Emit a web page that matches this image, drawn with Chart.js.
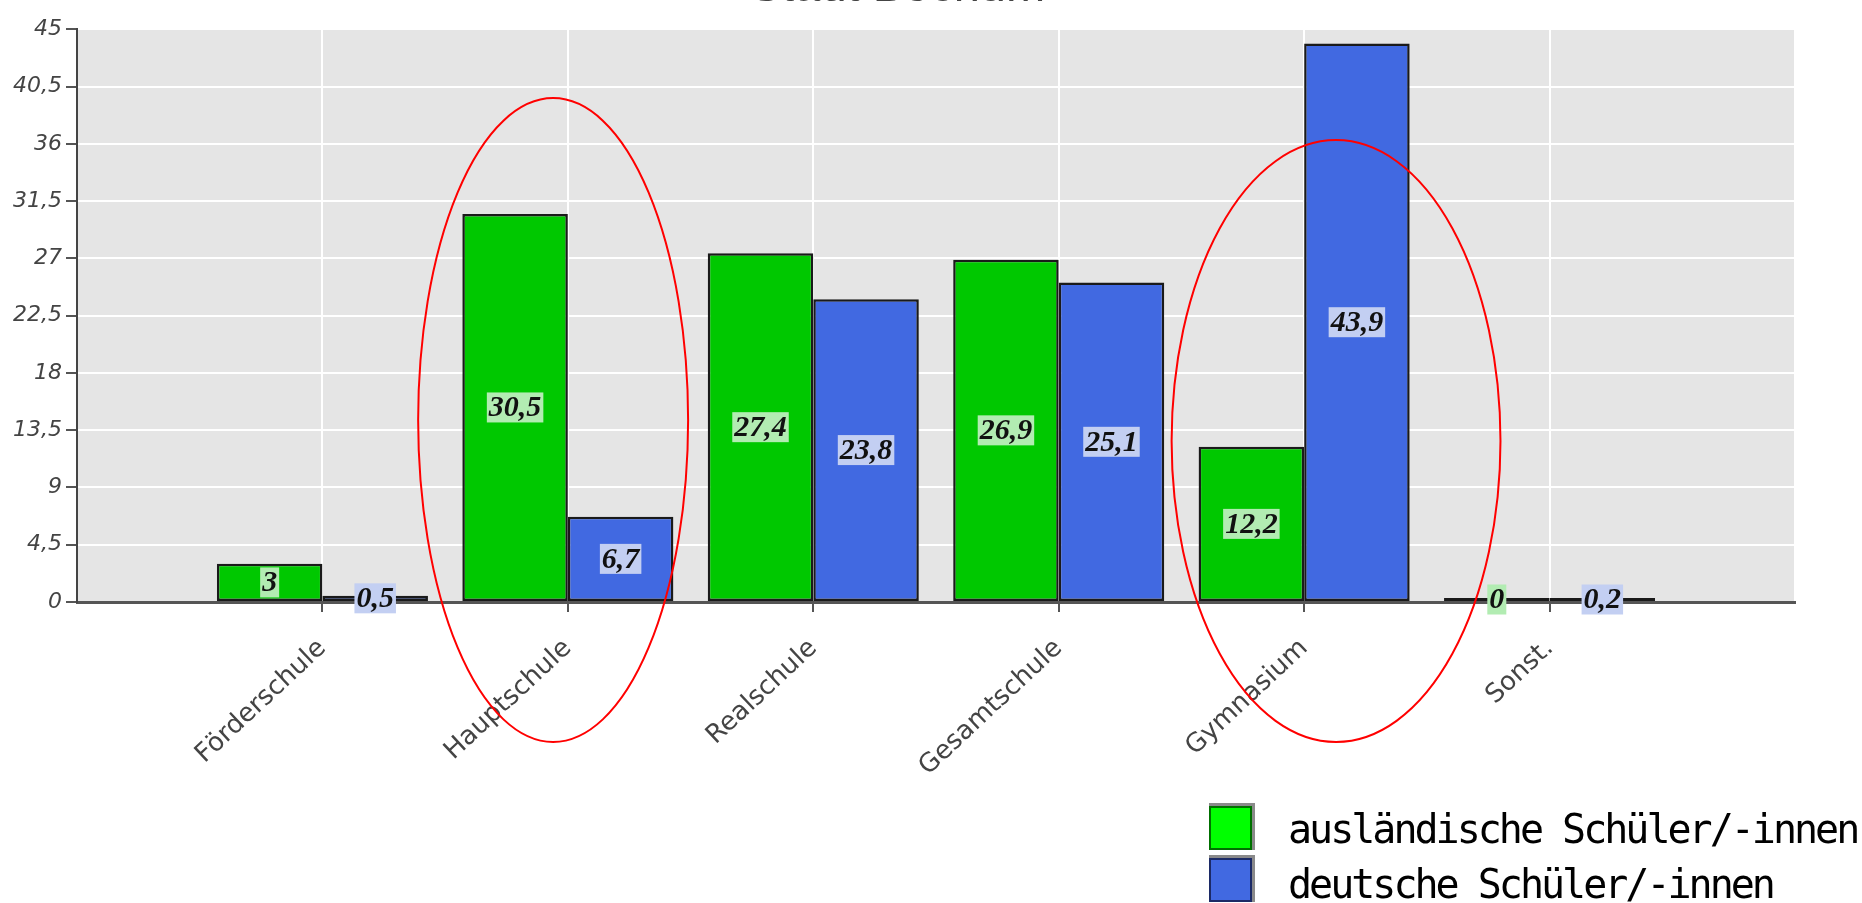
<!DOCTYPE html>
<html lang="de">
<head>
<meta charset="utf-8">
<title>Stadt Bochum</title>
<script src="https://cdn.jsdelivr.net/npm/chart.js"></script>
<style>
  html, body { margin: 0; padding: 0; background: #fff; overflow: hidden; }
  #wrap { position: relative; width: 1862px; height: 903px; overflow: hidden; }
  #chart { position: absolute; left: 0; top: -60px; }
  .leg-box { position: absolute; left: 1209px; width: 43px; border-top: 3px solid #8a8a8a; border-right: 3px solid #8a8a8a; }
  .leg-box div { height: 44px; border: 2px solid #000; box-sizing: border-box; }
  .leg-text { position: absolute; left: 1288px; font-family: "DejaVu Sans Mono", monospace; font-size: 40px; line-height: 40px; letter-spacing: -3px; color: #000; white-space: nowrap; }
</style>
</head>
<body>
<div id="wrap">
  <canvas id="chart" width="1862" height="963"></canvas>
  <div id="legend"></div>
</div>
<script>
// values (percent)
const titleText = 'Stadt Bochum';
const categories = ['Förderschule', 'Hauptschule', 'Realschule', 'Gesamtschule', 'Gymnasium', 'Sonst.'];
const seriesNames = ['ausländische Schüler/-innen', 'deutsche Schüler/-innen'];
const auslaendisch = [3, 30.5, 27.4, 26.9, 12.2, 0];
const deutsch = [0.5, 6.7, 23.8, 25.1, 43.9, 0.2];
const yTicks = [0, 4.5, 9, 13.5, 18, 22.5, 27, 31.5, 36, 40.5, 45];

// red ellipses drawn over the chart: category, x shift / half width in category units, y range in values
const highlightCats = ['Hauptschule', 'Gymnasium'];
const highlightShift = [-0.06, 0.13];
const highlightHalfWidth = [0.55, 0.67];
const highlightTop = [39.6, 36.3];
const highlightBottom = [-11, -11];

const barColors = ['#00c800', '#4169e1'];
const legendColors = ['#00ff00', '#4169e1'];
const legendBorders = ['#007000', '#1c2a66'];
const labelBg = ['#b2ecb2', '#c3cff2'];

// one empty slot on each side so the groups sit one full step away from the edges
const xLabels = [''].concat(categories, ['']);
const pad = arr => [null].concat(arr, [null]);

const fmt = v => String(v).replace('.', ',');

const plotBackground = {
  id: 'plotBackground',
  beforeDraw(chart) {
    const { ctx, chartArea: a } = chart;
    ctx.save();
    ctx.fillStyle = '#e5e5e5';
    ctx.fillRect(a.left, a.top, a.right - a.left, a.bottom - a.top);
    ctx.restore();
  }
};

const valueLabels = {
  id: 'valueLabels',
  afterDatasetsDraw(chart) {
    const ctx = chart.ctx;
    ctx.save();
    ctx.font = 'italic bold 30px "Liberation Serif", serif';
    ctx.textAlign = 'center';
    ctx.textBaseline = 'middle';
    chart.data.datasets.forEach((ds, i) => {
      chart.getDatasetMeta(i).data.forEach((bar, j) => {
        const v = ds.data[j];
        if (v === null || v === undefined) return;
        const p = bar.getProps(['x', 'y', 'base'], true);
        const cy = (p.y + p.base) / 2;
        const txt = fmt(v);
        const w = ctx.measureText(txt).width;
        ctx.fillStyle = labelBg[i];
        ctx.fillRect(p.x - w / 2 - 2, cy - 15, w + 4, 30);
        ctx.fillStyle = '#111';
        ctx.fillText(txt, p.x, cy + 1);
      });
    });
    ctx.restore();
  }
};

const ellipses = {
  id: 'ellipses',
  afterDraw(chart) {
    const { ctx, scales: { x, y } } = chart;
    const step = x.getPixelForValue(1) - x.getPixelForValue(0);
    ctx.save();
    ctx.strokeStyle = '#ff0000';
    ctx.lineWidth = 2;
    highlightCats.forEach((cat, k) => {
      const idx = xLabels.indexOf(cat);
      const cx = x.getPixelForValue(idx) + highlightShift[k] * step;
      const top = y.getPixelForValue(highlightTop[k]);
      const bottom = y.getPixelForValue(highlightBottom[k]);
      ctx.beginPath();
      ctx.ellipse(cx, (top + bottom) / 2, highlightHalfWidth[k] * step, (bottom - top) / 2, 0, 0, Math.PI * 2);
      ctx.stroke();
    });
    ctx.restore();
  }
};

const datasets = [auslaendisch, deutsch].map((vals, i) => ({
  label: seriesNames[i],
  data: pad(vals),
  backgroundColor: barColors[i],
  borderColor: '#1a1a1a',
  borderWidth: 2.5,
  borderSkipped: false,
  minBarLength: 4,
  categoryPercentage: 0.86,
  barPercentage: 1
}));

new Chart(document.getElementById('chart'), {
  type: 'bar',
  data: { labels: xLabels, datasets: datasets },
  plugins: [plotBackground, valueLabels, ellipses],
  options: {
    responsive: false,
    animation: false,
    layout: { padding: { left: 0, right: 67, top: 0, bottom: 0 } },
    plugins: {
      legend: { display: false },
      tooltip: { enabled: false },
      title: {
        display: true,
        text: titleText,
        color: '#444',
        font: { family: '"Liberation Sans", Arial, sans-serif', size: 47, weight: 'normal', lineHeight: 1.2 },
        padding: { top: 20, bottom: 13 }
      }
    },
    scales: {
      x: {
        offset: false,
        grid: {
          offset: false,
          color: '#ffffff',
          lineWidth: 2,
          tickLength: 10,
          tickColor: c => (c.index === 0 || c.index === xLabels.length - 1) ? 'rgba(0,0,0,0)' : '#555'
        },
        border: { display: true, color: '#555', width: 3 },
        ticks: {
          autoSkip: false,
          minRotation: 43,
          maxRotation: 43,
          padding: 21,
          color: '#444',
          font: { family: '"DejaVu Sans", sans-serif', size: 26 }
        },
        afterFit: s => { s.height = 301; }
      },
      y: {
        min: 0,
        max: 45,
        afterBuildTicks: s => { s.ticks = yTicks.map(v => ({ value: v })); },
        grid: { color: '#ffffff', lineWidth: 2, tickLength: 11, tickColor: '#555' },
        border: { display: true, color: '#444', width: 2 },
        ticks: {
          padding: 4,
          color: '#444',
          font: { family: '"DejaVu Sans", sans-serif', size: 22, style: 'italic' },
          callback: v => fmt(v)
        },
        afterFit: s => { s.width = 77; }
      }
    }
  }
});

// legend in the lower right, two rows stacked
const legend = document.getElementById('legend');
const boxTops = [803, 855];
const textTops = [809, 864];
seriesNames.forEach((name, i) => {
  const box = document.createElement('div');
  box.className = 'leg-box';
  box.style.top = boxTops[i] + 'px';
  const inner = document.createElement('div');
  inner.style.background = legendColors[i];
  inner.style.borderColor = legendBorders[i];
  box.appendChild(inner);
  legend.appendChild(box);
  const t = document.createElement('div');
  t.className = 'leg-text';
  t.style.top = textTops[i] + 'px';
  t.textContent = name;
  legend.appendChild(t);
});
</script>
</body>
</html>
